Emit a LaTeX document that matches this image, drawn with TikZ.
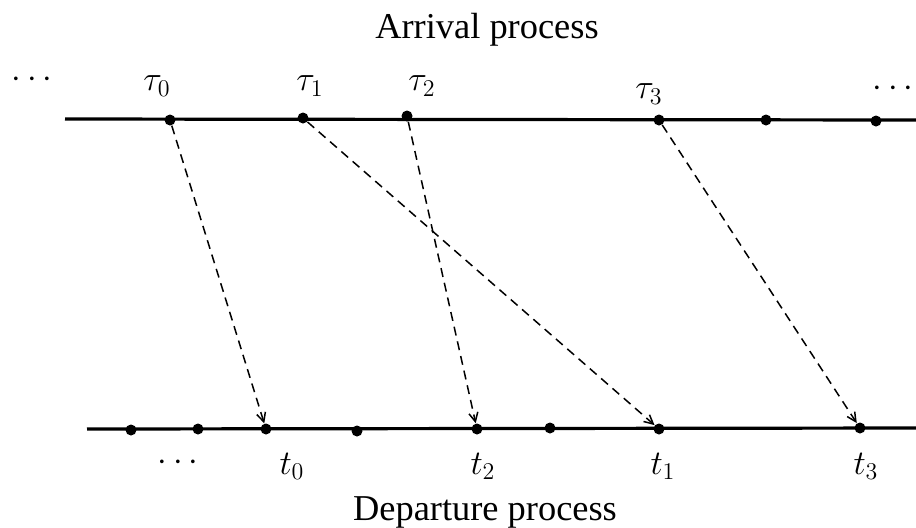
\documentclass[tikz,border=0pt]{standalone}
\usepackage{fontspec}
\setmainfont{Liberation Serif}
\usetikzlibrary{arrows.meta, positioning}

\begin{document}
\begin{tikzpicture}[x=0.5pt, y=-0.5pt,
    axis/.style={line width=1.6pt},
    dot/.style={circle, fill=black, inner sep=0pt, minimum size=5.5pt},
    label/.style={font=\fontsize{16.5}{19}\selectfont, inner sep=0pt},
    title/.style={font=\fontsize{18.2}{21}\selectfont, inner sep=0pt, anchor=base},
    arrow/.style={-{Straight Barb[length=4.5pt, width=4.5pt]}, dashed, dash pattern=on 4.5pt off 3pt, line width=0.75pt}]
    \useasboundingbox (0,0) rectangle (916,527);

    % Titles
    \node [title] (arrival) at (487,38) {Arrival process};
    \node [title] (departure) at (485,520) {Departure process};

    % Time axes
    \coordinate (al) at (65,119);
    \coordinate (ar) at (916,120);
    \coordinate (dl) at (87,429);
    \coordinate (dr) at (916,428);
    \draw [axis] (al) -- (ar);
    \draw [axis] (dl) -- (dr);

    % Arrival epochs
    \node [dot] (a0) at (170,120) {};
    \node [dot] (a1) at (303,118) {};
    \node [dot] (a2) at (407,116) {};
    \node [dot] (a3) at (659,120) {};
    \node [dot] (a4) at (766,120) {};
    \node [dot] (a5) at (876,121) {};

    % Departure epochs
    \node [dot] (d-2) at (131,430) {};
    \node [dot] (d-1) at (198,429) {};
    \node [dot] (d0) at (266,429) {};
    \node [dot] (dx) at (357,431) {};
    \node [dot] (d2) at (477,429) {};
    \node [dot] (dy) at (550,428) {};
    \node [dot] (d1) at (659,429) {};
    \node [dot] (d3) at (860,428) {};

    % Labels
    \node [label] (la-dots) at (32,80) {$\cdots$};
    \node [label] (la0) at (157,86) {$\tau_0$};
    \node [label] (la1) at (310,86) {$\tau_1$};
    \node [label] (la2) at (422,86) {$\tau_2$};
    \node [label] (la3) at (649,94) {$\tau_3$};
    \node [label] (ra-dots) at (893,89) {$\cdots$};
    \node [label] (ld-dots) at (178,463) {$\cdots$};
    \node [label] (ld0) at (292,466) {$t_0$};
    \node [label] (ld2) at (483,466) {$t_2$};
    \node [label] (ld1) at (663,466) {$t_1$};
    \node [label] (ld3) at (866,466) {$t_3$};

    % Arrows
    \draw [arrow] (a0) -- (d0);
    \draw [arrow] (a1) -- (d1);
    \draw [arrow] (a2) -- (d2);
    \draw [arrow] (a3) -- (d3);
\end{tikzpicture}
\end{document}
